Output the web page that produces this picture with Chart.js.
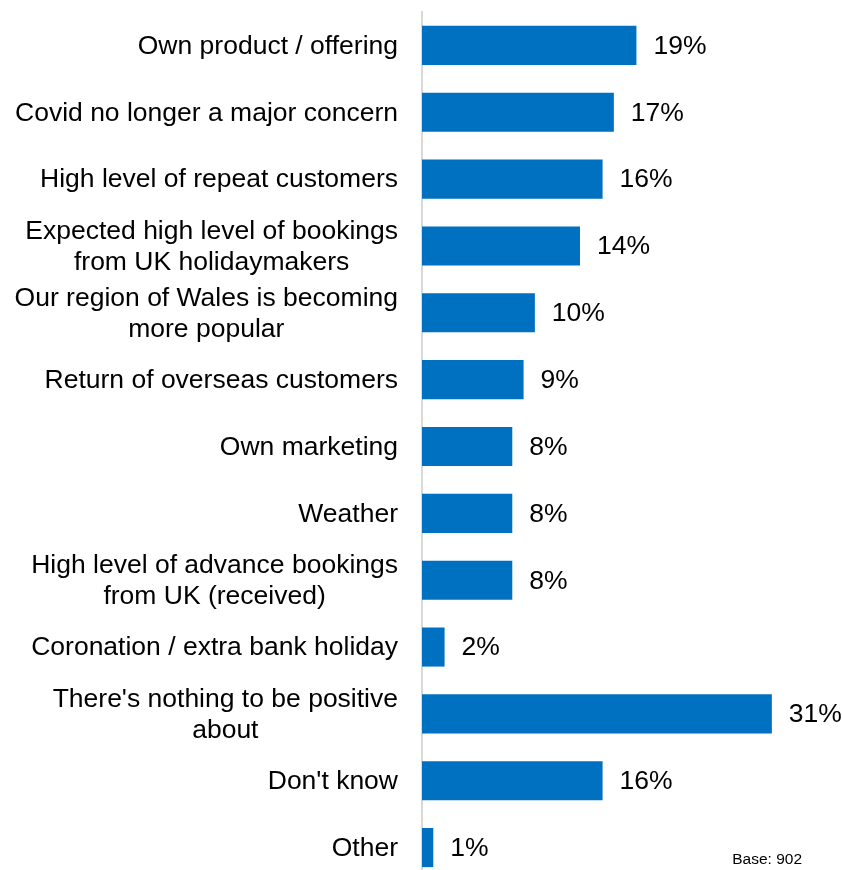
<!DOCTYPE html>
<html>
<head>
<meta charset="utf-8">
<title>Reasons to be positive</title>
<script src="https://cdn.jsdelivr.net/npm/chart.js"></script>
<style>
    html, body { margin: 0; padding: 0; background: #fff; overflow: hidden; }
    #wrap { width: 842px; height: 870px; overflow: hidden; }
</style>
</head>
<body>
<div id="wrap">
    <canvas id="reasonsChart" width="842" height="882"></canvas>
</div>
<script>
// Reasons given, with share of businesses (%)
const categories = [
    'Own product / offering',
    'Covid no longer a major concern',
    'High level of repeat customers',
    ['Expected high level of bookings', 'from UK holidaymakers'],
    ['Our region of Wales is becoming', 'more popular'],
    'Return of overseas customers',
    'Own marketing',
    'Weather',
    ['High level of advance bookings', 'from UK (received)'],
    'Coronation / extra bank holiday',
    ["There's nothing to be positive", 'about'],
    "Don't know",
    'Other'
];
const shares = [19, 17, 16, 14, 10, 9, 8, 8, 8, 2, 31, 16, 1];
const baseNote = 'Base: 902';

const FONT = '"Liberation Sans", Arial, sans-serif';
const LABEL_SIZE = 26.5;
const LINE_GAP = 31;

// Category names: right-aligned as a block, each line centred within it
const categoryLabels = {
    id: 'categoryLabels',
    afterDraw(chart) {
        const ctx = chart.ctx;
        const yScale = chart.scales.y;
        const right = yScale.right - 24;
        ctx.save();
        ctx.font = LABEL_SIZE + 'px ' + FONT;
        ctx.fillStyle = '#000';
        ctx.textAlign = 'center';
        ctx.textBaseline = 'middle';
        categories.forEach(function(label, i) {
            const lines = Array.isArray(label) ? label : [label];
            const blockWidth = Math.max.apply(null, lines.map(function(l) {
                return ctx.measureText(l).width;
            }));
            const cx = right - blockWidth / 2;
            const cy = yScale.getPixelForTick(i);
            lines.forEach(function(line, j) {
                ctx.fillText(line, cx, cy + 1 + (j - (lines.length - 1) / 2) * LINE_GAP);
            });
        });
        ctx.restore();
    }
};

// Percentage labels at the end of each bar, plus the base note
const valueLabels = {
    id: 'valueLabels',
    afterDatasetsDraw(chart) {
        const ctx = chart.ctx;
        const meta = chart.getDatasetMeta(0);
        ctx.save();
        ctx.font = LABEL_SIZE + 'px ' + FONT;
        ctx.fillStyle = '#000';
        ctx.textAlign = 'left';
        ctx.textBaseline = 'middle';
        meta.data.forEach(function(bar, i) {
            ctx.fillText(shares[i] + '%', bar.x + 17, bar.y + 1);
        });
        ctx.font = '15.5px ' + FONT;
        ctx.textAlign = 'right';
        ctx.textBaseline = 'alphabetic';
        ctx.fillText(baseNote, 802, 864);
        ctx.restore();
    }
};

new Chart(document.getElementById('reasonsChart').getContext('2d'), {
    type: 'bar',
    data: {
        labels: categories,
        datasets: [{
            data: shares,
            backgroundColor: '#0070C0',
            borderWidth: 0,
            barPercentage: 0.585,
            categoryPercentage: 1
        }]
    },
    options: {
        indexAxis: 'y',
        responsive: false,
        animation: false,
        devicePixelRatio: 1,
        layout: {
            padding: { top: 12, right: 25, bottom: 1, left: 0 }
        },
        plugins: {
            legend: { display: false },
            tooltip: { enabled: false }
        },
        scales: {
            x: {
                display: false,
                min: 0,
                max: 35
            },
            y: {
                afterFit: function(scale) {
                    scale.width = 422;
                },
                grid: {
                    display: false,
                    drawTicks: false
                },
                border: {
                    display: true,
                    color: '#d9d9d9',
                    width: 2
                },
                ticks: {
                    display: false
                }
            }
        }
    },
    plugins: [categoryLabels, valueLabels]
});
</script>
</body>
</html>
